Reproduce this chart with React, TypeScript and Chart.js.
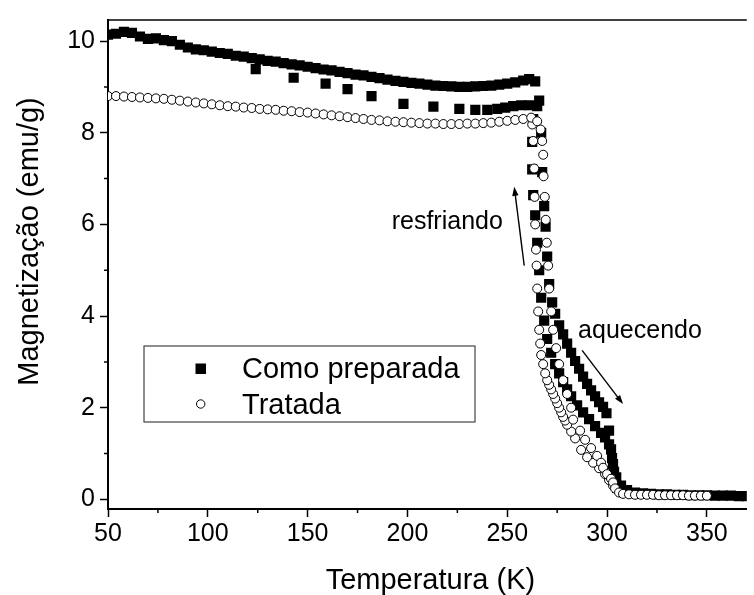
import { useEffect, useRef } from "react";
import { Chart, registerables } from "chart.js";

Chart.register(...registerables);

const FONT_FAMILY = "'Liberation Sans', Arial, Helvetica, sans-serif";

// Axis ticks
const xMajorTicks = [50, 100, 150, 200, 250, 300, 350];
const xMinorTicks = [75, 125, 175, 225, 275, 325];
const yMajorTicks = [0, 2, 4, 6, 8, 10];
const yMinorTicks = [1, 3, 5, 7, 9];

const xTitle = "Temperatura (K)";
const yTitle = "Magnetização (emu/g)";
const seriesNames = ["Como preparada", "Tratada"];

// "Como preparada" (squares), heating branch
const prepHeatT = [
  50, 54, 58, 62, 66, 70, 74, 78, 82, 86, 90, 94, 98, 102, 106, 110, 114, 118, 122, 126,
  130, 134, 138, 142, 146, 150, 154, 158, 162, 166, 170, 174, 178, 182, 186, 190, 194, 198,
  202, 206, 210, 214, 218, 222, 226, 230, 234, 238, 242, 246, 250, 254, 258, 261, 264,
  266, 267, 267.5, 268.5, 269.2, 270, 271, 272.5, 274, 276, 278, 280, 282, 284, 286, 288,
  290, 292, 294, 296, 298, 299.7, 301, 302, 303, 304.6, 307, 310, 314, 318, 322, 326, 330,
  334, 338, 342, 346, 350, 354, 358, 362, 366, 370,
];
const prepHeatM = [
  10.14, 10.16, 10.2, 10.18, 10.1, 10.05, 10.06, 10.02, 10.0, 9.92, 9.86, 9.82, 9.8, 9.77, 9.74, 9.72, 9.68, 9.66, 9.63, 9.6,
  9.57, 9.55, 9.52, 9.49, 9.47, 9.44, 9.41, 9.38, 9.36, 9.33, 9.3, 9.27, 9.25, 9.22, 9.19, 9.16, 9.13, 9.11,
  9.09, 9.07, 9.05, 9.03, 9.02, 9.01, 9.0, 9.0, 9.01, 9.02, 9.03, 9.05, 9.07, 9.1, 9.14, 9.17, 9.12,
  8.7, 8.0, 7.14, 6.4, 5.95, 5.3, 4.7, 4.3, 4.05, 3.8, 3.6, 3.4, 3.2, 3.02, 2.85, 2.68,
  2.52, 2.38, 2.25, 2.12, 2.02, 1.88, 1.5, 1.09, 0.77, 0.48, 0.3, 0.2, 0.15, 0.13, 0.12, 0.11, 0.11,
  0.1, 0.1, 0.09, 0.09, 0.09, 0.08, 0.08, 0.08, 0.07, 0.07,
];

// "Como preparada" (squares), cooling branch
const prepCoolT = [
  305, 303.5, 302.5, 301, 299, 297, 294, 291, 288, 285, 282, 280, 278, 276, 274, 272, 270,
  268.5, 267, 266, 265, 264, 263, 262.5, 262.5, 263, 265, 261, 257, 253, 249, 245, 240, 234,
  226, 213, 198, 182, 170, 159, 143, 124,
];
const prepCoolM = [
  0.25, 0.6, 0.9, 1.2, 1.35, 1.45, 1.6, 1.75, 1.9, 2.05, 2.25, 2.4, 2.56, 2.75, 2.95, 3.2, 3.5,
  3.9, 4.4, 5.0, 5.6, 6.2, 6.64, 7.2, 7.8, 8.3, 8.58, 8.6, 8.6, 8.58, 8.55, 8.52, 8.5, 8.5,
  8.52, 8.57, 8.63, 8.8, 8.95, 9.07, 9.2, 9.39,
];

// "Tratada" (circles), heating branch
const treatHeatT = [
  50, 54, 58, 62, 66, 70, 74, 78, 82, 86, 90, 94, 98, 102, 106, 110, 114, 118, 122, 126,
  130, 134, 138, 142, 146, 150, 154, 158, 162, 166, 170, 174, 178, 182, 186, 190, 194, 198,
  202, 206, 210, 214, 218, 222, 226, 230, 234, 238, 242, 246, 250, 254, 258, 262,
  265, 266.7, 267.5, 268, 268.2, 268.8, 269.3, 269.8, 270.5, 271, 272, 273, 274.5, 276, 278,
  280, 282, 283, 286.5, 289, 292, 295, 297, 298, 300, 302, 303, 304, 306, 308, 311, 314, 317,
  320, 323, 326, 329, 332, 335, 338, 341, 344, 347, 350,
];
const treatHeatM = [
  8.8, 8.8, 8.79, 8.78, 8.77, 8.76, 8.75, 8.74, 8.72, 8.7, 8.68, 8.66, 8.64, 8.62, 8.6, 8.58, 8.57, 8.55, 8.54, 8.52,
  8.51, 8.5, 8.48, 8.47, 8.45, 8.44, 8.42, 8.4, 8.38, 8.36, 8.34, 8.32, 8.3, 8.28, 8.27, 8.25, 8.24, 8.23,
  8.22, 8.21, 8.2, 8.2, 8.19, 8.19, 8.19, 8.2, 8.2, 8.21, 8.22, 8.24, 8.26, 8.28, 8.3, 8.33,
  8.25, 8.07, 7.82, 7.52, 7.05, 6.6, 6.1, 5.6, 5.1, 4.6, 4.1, 3.7, 3.3, 2.95, 2.6,
  2.3, 2.0, 1.74, 1.5, 1.3, 1.12, 0.95, 0.8, 0.69, 0.55, 0.45, 0.37, 0.24, 0.15, 0.12, 0.11, 0.1, 0.1,
  0.1, 0.1, 0.09, 0.09, 0.09, 0.09, 0.09, 0.08, 0.08, 0.08, 0.08,
];

// "Tratada" (circles), cooling branch
const treatCoolT = [
  303, 301, 299, 296, 293, 290, 287, 284, 282, 280, 279, 278, 277, 276, 275, 274, 273, 272,
  271, 270, 269, 268, 267, 266.5, 266, 265.5, 265, 264.7, 264.4, 264, 263.7, 263.5, 263, 262.5,
];
const treatCoolM = [
  0.3, 0.42, 0.55, 0.68, 0.8, 0.92, 1.08, 1.33, 1.48, 1.63, 1.72, 1.8, 1.9, 2.0, 2.1, 2.2, 2.3, 2.4,
  2.5, 2.6, 2.75, 2.95, 3.15, 3.4, 3.7, 4.1, 4.6, 5.1, 5.45, 6.0, 6.6, 7.22, 7.82, 8.18,
];

// Arrow annotations (temperature, magnetization)
const coolingLabel = { text: "resfriando", t: 247.8, m: 5.9 };
const coolingArrow = { from: [258.5, 5.1], to: [253.5, 6.82] };
const heatingLabel = { text: "aquecendo", t: 285.5, m: 3.52 };
const heatingArrow = { from: [287.5, 3.25], to: [308, 2.08] };

const toPoints = (t: number[], m: number[]) => t.map((x, i) => ({ x, y: m[i] }));

function drawArrow(ctx: CanvasRenderingContext2D, x1: number, y1: number, x2: number, y2: number) {
  const ang = Math.atan2(y2 - y1, x2 - x1);
  const head = 9;
  const half = 3.2;
  ctx.beginPath();
  ctx.moveTo(x1, y1);
  ctx.lineTo(x2 - Math.cos(ang) * head * 0.8, y2 - Math.sin(ang) * head * 0.8);
  ctx.stroke();
  ctx.beginPath();
  ctx.moveTo(x2, y2);
  ctx.lineTo(x2 - Math.cos(ang) * head - Math.sin(ang) * half, y2 - Math.sin(ang) * head + Math.cos(ang) * half);
  ctx.lineTo(x2 - Math.cos(ang) * head + Math.sin(ang) * half, y2 - Math.sin(ang) * head - Math.cos(ang) * half);
  ctx.closePath();
  ctx.fill();
}

const decorations = {
  id: "decorations",
  afterDraw(chart: any) {
    const { ctx, chartArea, scales } = chart;
    const xs = scales.x;
    const ys = scales.y;
    ctx.save();
    ctx.strokeStyle = "#000";
    ctx.fillStyle = "#000";

    // top frame line
    ctx.lineWidth = 1.5;
    ctx.beginPath();
    ctx.moveTo(chartArea.left, chartArea.top);
    ctx.lineTo(chartArea.right, chartArea.top);
    ctx.stroke();

    // minor ticks
    ctx.lineWidth = 1.5;
    ctx.beginPath();
    for (const v of xMinorTicks) {
      const px = xs.getPixelForValue(v);
      ctx.moveTo(px, chartArea.bottom);
      ctx.lineTo(px, chartArea.bottom + 4);
    }
    for (const v of yMinorTicks) {
      const py = ys.getPixelForValue(v);
      ctx.moveTo(chartArea.left, py);
      ctx.lineTo(chartArea.left - 4, py);
    }
    ctx.stroke();

    // axis titles
    ctx.font = `29px ${FONT_FAMILY}`;
    ctx.textAlign = "center";
    ctx.textBaseline = "alphabetic";
    ctx.fillText(xTitle, (chartArea.left + chartArea.right) / 2 + 3, 589);
    ctx.save();
    ctx.translate(37.5, (chartArea.top + chartArea.bottom) / 2 - 23);
    ctx.rotate(-Math.PI / 2);
    ctx.fillText(yTitle, 0, 0);
    ctx.restore();

    // legend
    const lx = chartArea.left + 36;
    const ly = chartArea.top + 326;
    const lw = 331;
    const lh = 76;
    ctx.fillStyle = "#fff";
    ctx.fillRect(lx, ly, lw, lh);
    ctx.strokeStyle = "#444";
    ctx.lineWidth = 1.2;
    ctx.strokeRect(lx, ly, lw, lh);
    ctx.fillStyle = "#000";
    ctx.fillRect(lx + 51.5, ly + 17.5, 10.5, 10.5);
    ctx.strokeStyle = "#000";
    ctx.lineWidth = 1;
    ctx.beginPath();
    ctx.arc(lx + 56.7, ly + 58, 4.2, 0, Math.PI * 2);
    ctx.fillStyle = "#fff";
    ctx.fill();
    ctx.stroke();
    ctx.fillStyle = "#000";
    ctx.font = `29px ${FONT_FAMILY}`;
    ctx.textAlign = "left";
    ctx.fillText(seriesNames[0], lx + 98, ly + 32);
    ctx.fillText(seriesNames[1], lx + 98, ly + 68);

    // annotations
    ctx.font = `25px ${FONT_FAMILY}`;
    ctx.textAlign = "right";
    ctx.fillText(coolingLabel.text, xs.getPixelForValue(coolingLabel.t), ys.getPixelForValue(coolingLabel.m));
    ctx.textAlign = "left";
    ctx.fillText(heatingLabel.text, xs.getPixelForValue(heatingLabel.t), ys.getPixelForValue(heatingLabel.m));
    ctx.lineWidth = 1.4;
    drawArrow(
      ctx,
      xs.getPixelForValue(coolingArrow.from[0]), ys.getPixelForValue(coolingArrow.from[1]),
      xs.getPixelForValue(coolingArrow.to[0]), ys.getPixelForValue(coolingArrow.to[1])
    );
    drawArrow(
      ctx,
      xs.getPixelForValue(heatingArrow.from[0]), ys.getPixelForValue(heatingArrow.from[1]),
      xs.getPixelForValue(heatingArrow.to[0]), ys.getPixelForValue(heatingArrow.to[1])
    );
    ctx.restore();
  },
};

export default function App() {
  const canvasRef = useRef<HTMLCanvasElement | null>(null);

  useEffect(() => {
    const canvas = canvasRef.current;
    if (!canvas) return;

    const squareStyle = {
      pointStyle: "rect",
      pointRadius: 7.2,
      pointBackgroundColor: "#000",
      pointBorderColor: "#000",
      pointBorderWidth: 0,
      showLine: false,
      order: 1,
    };
    const circleStyle = {
      pointStyle: "circle",
      pointRadius: 4.5,
      pointBackgroundColor: "#fff",
      pointBorderColor: "#000",
      pointBorderWidth: 1,
      showLine: false,
      order: 0,
    };

    const chart = new Chart(canvas, {
      type: "scatter",
      data: {
        datasets: [
          { label: seriesNames[1], data: toPoints(treatHeatT, treatHeatM), ...circleStyle },
          { label: seriesNames[1], data: toPoints(treatCoolT, treatCoolM), ...circleStyle },
          { label: seriesNames[0], data: toPoints(prepHeatT, prepHeatM), ...squareStyle },
          { label: seriesNames[0], data: toPoints(prepCoolT, prepCoolM), ...squareStyle },
        ] as any,
      },
      options: {
        responsive: false,
        maintainAspectRatio: false,
        animation: false,
        layout: { padding: { top: 12, right: 0, bottom: 0, left: 0 } },
        plugins: {
          legend: { display: false },
          tooltip: { enabled: false },
        },
        scales: {
          x: {
            type: "linear",
            min: 50,
            max: 370,
            afterFit: (s: any) => {
              s.height = 86;
            },
            afterBuildTicks: (s: any) => {
              s.ticks = [...xMajorTicks, ...xMinorTicks].sort((a, b) => a - b).map((value) => ({ value }));
            },
            ticks: {
              color: "#000",
              font: { family: FONT_FAMILY, size: 25 },
              padding: 2,
              maxRotation: 0,
              autoSkip: false,
              callback: (v: any) => (xMajorTicks.includes(Number(v)) ? String(v) : ""),
            },
            grid: {
              drawOnChartArea: false,
              drawTicks: true,
              tickLength: 8,
              tickWidth: 1.5,
              tickColor: (c: any) => (c.tick && xMajorTicks.includes(c.tick.value) ? "#000" : "rgba(0,0,0,0)"),
            },
            border: { display: true, color: "#000", width: 2 },
          },
          y: {
            type: "linear",
            min: -0.21,
            max: 10.46,
            afterFit: (s: any) => {
              s.width = 108;
            },
            afterBuildTicks: (s: any) => {
              s.ticks = [...yMajorTicks, ...yMinorTicks].sort((a, b) => a - b).map((value) => ({ value }));
            },
            ticks: {
              color: "#000",
              font: { family: FONT_FAMILY, size: 25 },
              padding: 5,
              autoSkip: false,
              callback: (v: any) => (yMajorTicks.includes(Number(v)) ? String(v) : ""),
            },
            grid: {
              drawOnChartArea: false,
              drawTicks: true,
              tickLength: 8,
              tickWidth: 1.5,
              tickColor: (c: any) => (c.tick && yMajorTicks.includes(c.tick.value) ? "#000" : "rgba(0,0,0,0)"),
            },
            border: { display: true, color: "#000", width: 2 },
          },
        },
      },
      plugins: [decorations],
    });

    return () => chart.destroy();
  }, []);

  return (
    <div style={{ position: "absolute", left: 0, top: 0, width: 754, height: 595, background: "#fff" }}>
      <canvas ref={canvasRef} width={754} height={595} />
    </div>
  );
}
